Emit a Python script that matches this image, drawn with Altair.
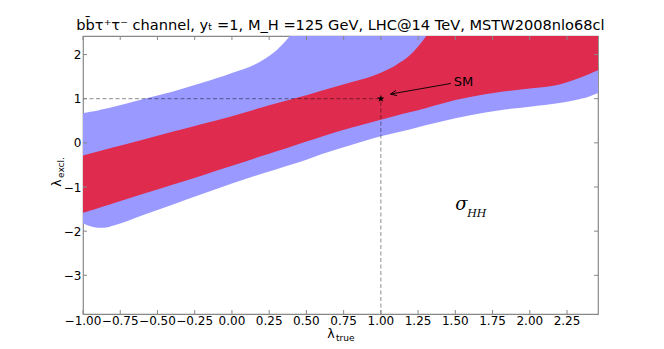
import altair as alt
import pandas as pd

# ---- data ----
xs = [-1.0, -0.95, -0.9, -0.85, -0.8, -0.6, -0.4, -0.2, 0.0, 0.2, 0.3, 0.4, 0.5, 0.6,
      0.8, 1.0, 1.1, 1.2, 1.3, 1.4, 1.5, 1.6, 1.8, 2.0, 2.2, 2.3, 2.4, 2.46]
blue_upper = [0.675, 0.705, 0.735, 0.77, 0.81, 0.99, 1.16, 1.36, 1.58, 1.86, 2.10, 2.47, 3.0, 3.6,
              4.0, 4.0, 4.0, 4.0, 4.0, 4.0, 4.0, 4.0, 4.0, 4.0, 4.0, 4.0, 4.0, 4.0]
red_upper = [-0.285, -0.24, -0.196, -0.15, -0.107, 0.071, 0.249, 0.427, 0.605, 0.80, 0.895, 0.99, 1.08, 1.18,
             1.37, 1.59, 1.76, 2.0, 2.4, 2.9, 3.4, 3.8, 4.0, 4.0, 4.0, 4.0, 4.0, 4.0]
red_lower = [-1.585, -1.532, -1.479, -1.426, -1.373, -1.161, -0.949, -0.737, -0.52, -0.30, -0.19, -0.08, 0.03, 0.14,
             0.34, 0.525, 0.615, 0.70, 0.785, 0.88, 0.97, 1.04, 1.15, 1.23, 1.32, 1.43, 1.56, 1.645]
blue_lower = [-1.82, -1.89, -1.92, -1.92, -1.88, -1.64, -1.40, -1.16, -0.92, -0.70, -0.595, -0.49, -0.38, -0.26,
              -0.05, 0.15, 0.23, 0.31, 0.40, 0.48, 0.555, 0.625, 0.74, 0.82, 0.90, 0.965, 1.05, 1.13]

x_ticks = [-1.0, -0.75, -0.5, -0.25, 0.0, 0.25, 0.5, 0.75, 1.0, 1.25, 1.5, 1.75, 2.0, 2.25]
x_tick_labels = ["\u22121.00", "\u22120.75", "\u22120.50", "\u22120.25", "0.00", "0.25", "0.50",
                 "0.75", "1.00", "1.25", "1.50", "1.75", "2.00", "2.25"]
y_ticks = [-3, -2, -1, 0, 1, 2]
x_domain = [-1.0, 2.458]
y_domain = [-3.876, 2.42]

sm_point_x = [1.0]
sm_point_y = [1.0]

title_text = "bb\u0304\u03c4\u207a\u03c4\u207b  channel, y\u209c =1, M_H =125 GeV, LHC@14 TeV, MSTW2008nlo68cl"

W, H = 515, 278
FONT = "DejaVu Sans"

df = pd.DataFrame({"x": xs, "bu": blue_upper, "bl": blue_lower, "ru": red_upper, "rl": red_lower})
xsc = alt.Scale(domain=x_domain, nice=False, zero=False)
ysc = alt.Scale(domain=y_domain, nice=False, zero=False)

yaxis = alt.Axis(values=y_ticks, format="d", ticks=False, domain=False, grid=False,
                 labelFontSize=12, labelFont=FONT, labelColor="black", labelPadding=2,
                 labelOverlap=False, labelFlush=False, title=None)

blue = alt.Chart(df).mark_area(color="#9999FF", clip=True, interpolate="monotone").encode(
    x=alt.X("x:Q", scale=xsc, axis=None),
    y=alt.Y("bl:Q", scale=ysc, axis=yaxis),
    y2="bu:Q",
)
red = alt.Chart(df).mark_area(color="#DF2C4E", clip=True, interpolate="monotone").encode(
    x=alt.X("x:Q", scale=xsc),
    y=alt.Y("rl:Q", scale=ysc),
    y2="ru:Q",
)

ref_df = pd.DataFrame({"x": [x_domain[0], sm_point_x[0]], "x2": [sm_point_x[0], sm_point_x[0]],
                       "y": [sm_point_y[0], y_domain[0]], "y2": [sm_point_y[0], sm_point_y[0]]})
refs = alt.Chart(ref_df).mark_rule(color="black", opacity=0.45, strokeDash=[4, 2.5], strokeWidth=1).encode(
    x=alt.X("x:Q", scale=xsc), x2="x2:Q", y=alt.Y("y:Q", scale=ysc), y2="y2:Q")

star_path = ("M0,-1L0.2245,-0.309L0.9511,-0.309L0.3633,0.118L0.5878,0.809L0,0.382"
             "L-0.5878,0.809L-0.3633,0.118L-0.9511,-0.309L-0.2245,-0.309Z")
star = alt.Chart(pd.DataFrame({"x": sm_point_x, "y": sm_point_y})).mark_point(
    shape=star_path, filled=True, size=60, color="black", opacity=1).encode(
    x=alt.X("x:Q", scale=xsc), y=alt.Y("y:Q", scale=ysc))

arrow_df = pd.DataFrame({"x": [1.47], "y": [1.345], "x2": [1.065], "y2": [1.105]})
arrow_line = alt.Chart(arrow_df).mark_rule(color="black", strokeWidth=0.9).encode(
    x=alt.X("x:Q", scale=xsc), x2="x2:Q", y=alt.Y("y:Q", scale=ysc), y2="y2:Q")
arrow_head = alt.Chart(arrow_df).mark_point(
    shape="M1.6,-0.7L0,0L1.6,0.7", filled=False, angle=350, size=56, color="black",
    strokeWidth=0.9, opacity=1).encode(x=alt.X("x2:Q", scale=xsc), y=alt.Y("y2:Q", scale=ysc))

sm_text = alt.Chart(pd.DataFrame({"x": [1.49], "y": [1.38], "t": ["SM"]})).mark_text(
    align="left", baseline="middle", fontSize=13, font=FONT, color="black").encode(
    x=alt.X("x:Q", scale=xsc), y=alt.Y("y:Q", scale=ysc), text="t:N")

sigma = alt.Chart(pd.DataFrame({"x": [1.50], "y": [-1.40], "t": ["\u03c3"]})).mark_text(
    align="left", baseline="middle", fontSize=18, font="DejaVu Serif", fontStyle="italic", color="black").encode(
    x=alt.X("x:Q", scale=xsc), y=alt.Y("y:Q", scale=ysc), text="t:N")
hh = alt.Chart(pd.DataFrame({"x": [1.58], "y": [-1.60], "t": ["HH"]})).mark_text(
    align="left", baseline="middle", fontSize=11, font="DejaVu Serif", fontStyle="italic", color="black").encode(
    x=alt.X("x:Q", scale=xsc), y=alt.Y("y:Q", scale=ysc), text="t:N")

# x tick labels (overlapping, all shown, as in the reference)
xt = pd.DataFrame({"x": x_ticks, "lab": x_tick_labels})
x_labels = alt.Chart(xt).mark_text(baseline="top", align="center", fontSize=12, font=FONT,
                                   color="black").encode(
    x=alt.X("x:Q", scale=xsc), y=alt.value(H + 2), text="lab:N")

# inward ticks on all four sides
yt = pd.DataFrame({"y": y_ticks})
tick_color = "#888888"
t_bottom = alt.Chart(xt).mark_rule(color=tick_color, strokeWidth=1).encode(
    x=alt.X("x:Q", scale=xsc), y=alt.value(H), y2=alt.value(H - 4))
t_top = alt.Chart(xt).mark_rule(color=tick_color, strokeWidth=1).encode(
    x=alt.X("x:Q", scale=xsc), y=alt.value(0), y2=alt.value(4))
t_left = alt.Chart(yt).mark_rule(color=tick_color, strokeWidth=1).encode(
    y=alt.Y("y:Q", scale=ysc), x=alt.value(0), x2=alt.value(4))
t_right = alt.Chart(yt).mark_rule(color=tick_color, strokeWidth=1).encode(
    y=alt.Y("y:Q", scale=ysc), x=alt.value(W), x2=alt.value(W - 4))

dummy = pd.DataFrame({"a": [0]})
xl1 = alt.Chart(dummy).mark_text(text="\u03bb", fontSize=12.5, font=FONT, align="center",
                                 baseline="alphabetic", color="black").encode(
    x=alt.value(248), y=alt.value(302))
xl2 = alt.Chart(dummy).mark_text(text="true", fontSize=9, font=FONT, align="left",
                                 baseline="alphabetic", color="black").encode(
    x=alt.value(253), y=alt.value(304.5))
yl1 = alt.Chart(dummy).mark_text(text="\u03bb", fontSize=12.5, font=FONT, align="center",
                                 baseline="alphabetic", angle=270, color="black").encode(
    x=alt.value(-22), y=alt.value(147))
yl2 = alt.Chart(dummy).mark_text(text="excl.", fontSize=9, font=FONT, align="left",
                                 baseline="alphabetic", angle=270, color="black").encode(
    x=alt.value(-19), y=alt.value(142))

chart = alt.layer(
    blue, red, refs, arrow_line, arrow_head, star, sm_text, sigma, hh, x_labels,
    t_bottom, t_top, t_left, t_right, xl1, xl2, yl1, yl2,
).properties(
    width=W, height=H,
    title=alt.TitleParams(text=title_text, fontSize=14.6, font=FONT, fontWeight="normal",
                          anchor="middle", offset=3, color="black"),
    autosize=alt.AutoSizeParams(type="none"),
    padding={"left": 75, "top": 28, "right": 58, "bottom": 27},
).configure_view(stroke="#888888", strokeWidth=1.2)

chart.save("out.html", embed_options={"renderer": "svg", "actions": False})
